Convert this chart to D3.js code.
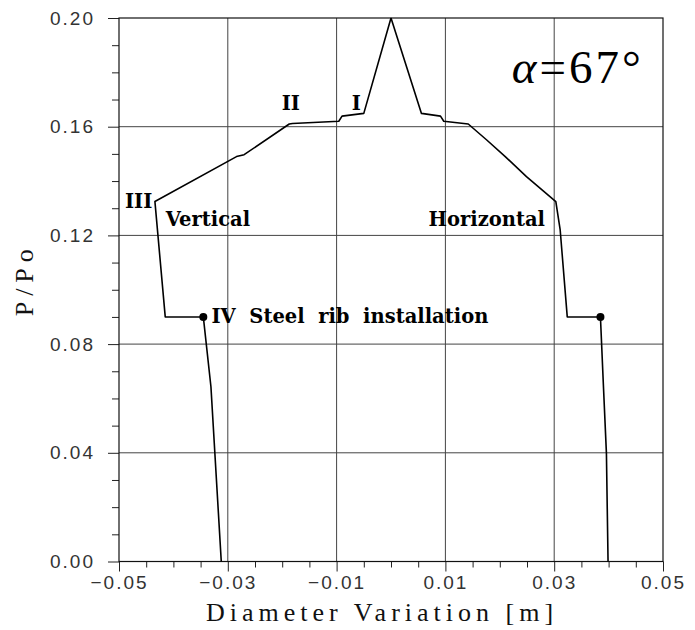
<!DOCTYPE html>
<html>
<head>
<meta charset="utf-8">
<script src="https://cdn.jsdelivr.net/npm/d3@7"></script>
<style>
  html, body { margin: 0; padding: 0; background: #fff; }
  svg { display: block; }
  .tick-label { font-family: "Liberation Sans", Arial, sans-serif; font-size: 19px; fill: #333; letter-spacing: 2px; }
  .axis-title { font-family: "Liberation Serif", "Times New Roman", serif; font-size: 26px; fill: #111; }
  .note { font-family: "DejaVu Serif", serif; font-weight: bold; font-size: 19.5px; fill: #000; }
</style>
</head>
<body>
<svg id="chart" width="695" height="630"></svg>
<script>
// Vertical diameter branch: from the base of the section up to the peak
const verticalDiameter = [-0.0312, -0.0331, -0.0345, -0.0415, -0.0434, -0.0284, -0.0270, -0.0187, -0.0181, -0.0096, -0.0090, -0.0050, 0.0];
const verticalPressure = [0.000, 0.0643, 0.090, 0.090, 0.1325, 0.149, 0.1497, 0.161, 0.1612, 0.162, 0.1639, 0.1649, 0.200];

// Horizontal diameter branch: from the peak down to the base
const horizontalDiameter = [0.0, 0.0056, 0.0091, 0.0097, 0.0142, 0.0176, 0.0210, 0.0249, 0.0303, 0.0311, 0.0324, 0.0385, 0.0390, 0.0396, 0.0399];
const horizontalPressure = [0.200, 0.1649, 0.1639, 0.162, 0.161, 0.1551, 0.149, 0.1416, 0.1324, 0.122, 0.090, 0.090, 0.0668, 0.0398, 0.000];

// Steel rib installation points
const ribDiameter = [-0.0345, 0.0385];
const ribPressure = [0.090, 0.090];

// Axis ticks
const xTickValues = [-0.05, -0.03, -0.01, 0.01, 0.03, 0.05];
const xTickLabels = ["\u22120.05", "\u22120.03", "\u22120.01", "0.01", "0.03", "0.05"];
const xMinorTicks = [-0.045, -0.04, -0.035, -0.025, -0.02, -0.015, -0.005, 0.0, 0.005, 0.015, 0.02, 0.025, 0.035, 0.04, 0.045];
const yTickValues = [0.00, 0.04, 0.08, 0.12, 0.16, 0.20];
const yTickLabels = ["0.00", "0.04", "0.08", "0.12", "0.16", "0.20"];
const yMinorTicks = [0.01, 0.02, 0.03, 0.05, 0.06, 0.07, 0.09, 0.10, 0.11, 0.13, 0.14, 0.15, 0.17, 0.18, 0.19];

// Annotations (data coordinates of the text start)
const noteTexts = ["III", "II", "I", "Vertical", "Horizontal", "IV  Steel  rib  installation"];
const noteX = [-0.0489, -0.0201, -0.0072, -0.0414, 0.0069, -0.0330];
const noteY = [0.1301, 0.1661, 0.1661, 0.1235, 0.1235, 0.0878];

const svg = d3.select("#chart");
const mLeft = 119, mRight = 663, mTop = 18, mBottom = 561.5;

const x = d3.scaleLinear().domain([-0.05, 0.05]).range([mLeft, mRight]);
const y = d3.scaleLinear().domain([0, 0.20]).range([mBottom, mTop]);

// Grid
const grid = svg.append("g").attr("stroke", "#444").attr("stroke-width", 1);
grid.selectAll("line.gx").data(xTickValues.slice(1, -1)).join("line")
  .attr("x1", d => x(d)).attr("x2", d => x(d)).attr("y1", mTop).attr("y2", mBottom);
grid.selectAll("line.gy").data(yTickValues.slice(1, -1)).join("line")
  .attr("x1", mLeft).attr("x2", mRight).attr("y1", d => y(d)).attr("y2", d => y(d));

// Bottom axis
const xAxisMajor = d3.axisBottom(x).tickValues(xTickValues).tickSize(10)
  .tickFormat((d, i) => xTickLabels[i]).tickPadding(4);
const gx = svg.append("g").attr("transform", `translate(0,${mBottom})`).call(xAxisMajor);
gx.select(".domain").remove();
gx.attr("font-size", null).attr("font-family", null);
gx.selectAll(".tick text").attr("class", "tick-label");
gx.selectAll(".tick line").attr("stroke", "#222");
const gxMinor = svg.append("g").attr("transform", `translate(0,${mBottom})`)
  .call(d3.axisBottom(x).tickValues(xMinorTicks).tickSize(6).tickFormat(""));
gxMinor.select(".domain").remove();
gxMinor.selectAll(".tick line").attr("stroke", "#222");

// Left axis
const yAxisMajor = d3.axisLeft(y).tickValues(yTickValues).tickSize(11)
  .tickFormat((d, i) => yTickLabels[i]).tickPadding(13);
const gy = svg.append("g").attr("transform", `translate(${mLeft},0)`).call(yAxisMajor);
gy.select(".domain").remove();
gy.attr("font-size", null).attr("font-family", null);
gy.selectAll(".tick text").attr("class", "tick-label");
gy.selectAll(".tick line").attr("stroke", "#222");
const gyMinor = svg.append("g").attr("transform", `translate(${mLeft},0)`)
  .call(d3.axisLeft(y).tickValues(yMinorTicks).tickSize(7).tickFormat(""));
gyMinor.select(".domain").remove();
gyMinor.selectAll(".tick line").attr("stroke", "#222");

// Frame
svg.append("rect").attr("x", mLeft).attr("y", mTop).attr("width", mRight - mLeft).attr("height", mBottom - mTop)
  .attr("fill", "none").attr("stroke", "#111").attr("stroke-width", 1.2);

// Curves
const line = d3.line().x(d => x(d[0])).y(d => y(d[1]));
const vPts = verticalDiameter.map((d, i) => [d, verticalPressure[i]]);
const hPts = horizontalDiameter.map((d, i) => [d, horizontalPressure[i]]);
svg.append("path").datum(vPts).attr("d", line).attr("fill", "none").attr("stroke", "#000").attr("stroke-width", 1.6).attr("stroke-linejoin", "round");
svg.append("path").datum(hPts).attr("d", line).attr("fill", "none").attr("stroke", "#000").attr("stroke-width", 1.6).attr("stroke-linejoin", "round");

svg.selectAll("circle.rib").data(ribDiameter).join("circle")
  .attr("cx", d => x(d)).attr("cy", (d, i) => y(ribPressure[i])).attr("r", 4).attr("fill", "#000");

// Annotations
svg.selectAll("text.note").data(noteTexts).join("text")
  .attr("class", "note")
  .attr("x", (d, i) => x(noteX[i])).attr("y", (d, i) => y(noteY[i]))
  .style("white-space", "pre")
  .text(d => d);

// Angle label
const alpha = svg.append("text")
  .attr("x", x(0.0222)).attr("y", y(0.1761))
  .attr("font-family", "Liberation Serif, serif").attr("font-size", 47)
  .attr("letter-spacing", "3px").attr("fill", "#000");
alpha.append("tspan").attr("font-style", "italic").text("\u03b1");
alpha.append("tspan").text("=67\u00b0");

// Axis titles
svg.append("text").attr("class", "axis-title")
  .attr("x", 382).attr("y", 621).attr("text-anchor", "middle")
  .attr("letter-spacing", "5px")
  .text("Diameter Variation [m]");
svg.append("text").attr("class", "axis-title")
  .attr("transform", `translate(33,${(mTop + mBottom) / 2 - 10}) rotate(-90)`)
  .attr("text-anchor", "middle").attr("letter-spacing", "6px")
  .text("P/Po");
</script>
</body>
</html>
